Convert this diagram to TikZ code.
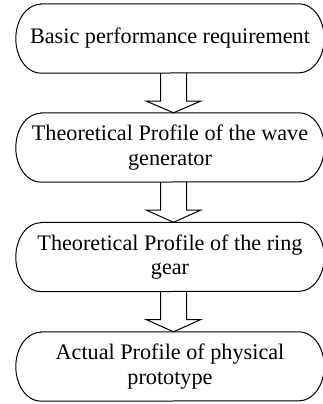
\documentclass[tikz,border=0pt]{standalone}
\usepackage{fontspec}
\setmainfont{Liberation Serif}
\usetikzlibrary{calc}
\begin{document}
\begin{tikzpicture}[x=1pt,y=-1pt,
  boxnode/.style={shape=rectangle,draw=none,minimum width=308pt,minimum height=69pt,
    inner sep=0pt,align=center,font=\fontsize{22.2}{24.5}\selectfont},
  outline/.style={line width=1pt,black},
  bigarrow/.style={line width=1pt,black,line join=miter}]
\useasboundingbox (0,0) rectangle (323,404);
\node[boxnode] (b1) at (170,38.5) {Basic performance requirement};
\node[boxnode] (b2) at (170,147.5) {Theoretical Profile of the wave\\generator};
\node[boxnode] (b3) at (170,257) {Theoretical Profile of the ring\\gear};
\node[boxnode] (b4) at (170,366.5) {Actual Profile of physical\\prototype};
\foreach \n in {b1,b2,b3,b4}{
  \draw[outline] ([xshift=25pt]\n.north west) -- ([xshift=-25pt]\n.north east)
    arc[start angle=90,end angle=-90,x radius=25pt,y radius=34.5pt]
    -- ([xshift=25pt]\n.south west)
    arc[start angle=270,end angle=90,x radius=25pt,y radius=34.5pt] -- cycle;
}
\foreach \a/\b in {b1/b2,b2/b3,b3/b4}{
  \coordinate (t) at ([xshift=3.5pt]\a.south);
  \coordinate (h) at ([xshift=3.5pt]\b.north);
  \draw[bigarrow] ($(t)+(-13,0)$) -- ($(t)+(-13,28)$) -- ($(t)+(-27,28)$) -- (h)
    -- ($(t)+(27,28)$) -- ($(t)+(13,28)$) -- ($(t)+(13,0)$);
}
\end{tikzpicture}
\end{document}
